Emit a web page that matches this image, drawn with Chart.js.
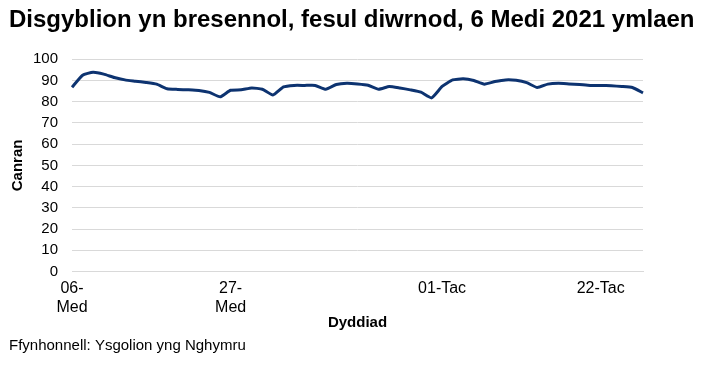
<!DOCTYPE html>
<html>
<head>
<meta charset="utf-8">
<script src="https://cdn.jsdelivr.net/npm/chart.js@4"></script>
<style>
  html, body { margin: 0; padding: 0; background: #fff; }
  #wrap { width: 707px; height: 368px; }
</style>
</head>
<body>
<div id="wrap"><canvas id="myChart" width="707" height="368"></canvas></div>
<script>
// dyddiadau ysgol (dim penwythnosau na hanner tymor)
const dyddiadau = [
    '06-Med', '07-Med', '08-Med', '09-Med', '10-Med',
    '13-Med', '14-Med', '15-Med', '16-Med', '17-Med',
    '20-Med', '21-Med', '22-Med', '23-Med', '24-Med',
    '27-Med', '28-Med', '29-Med', '30-Med', '01-Hyd',
    '04-Hyd', '05-Hyd', '06-Hyd', '07-Hyd', '08-Hyd',
    '11-Hyd', '12-Hyd', '13-Hyd', '14-Hyd', '15-Hyd',
    '18-Hyd', '19-Hyd', '20-Hyd', '21-Hyd', '22-Hyd',
    '01-Tac', '02-Tac', '03-Tac', '04-Tac', '05-Tac',
    '08-Tac', '09-Tac', '10-Tac', '11-Tac', '12-Tac',
    '15-Tac', '16-Tac', '17-Tac', '18-Tac', '19-Tac',
    '22-Tac', '23-Tac', '24-Tac', '25-Tac', '26-Tac'
];

// canran y disgyblion yn bresennol
const canran = [
    86.8, 92.5, 93.9, 93.0, 91.4,
    90.3, 89.7, 89.1, 88.3, 86.1,
    85.8, 85.6, 85.3, 84.4, 82.3,
    85.4, 85.6, 86.5, 85.9, 83.2,
    87.0, 87.7, 87.7, 87.7, 85.9,
    88.1, 88.7, 88.4, 87.8, 85.9,
    87.2, 86.5, 85.6, 84.5, 81.8,
    87.2, 90.3, 90.8, 90.0, 88.3,
    89.5, 90.3, 90.1, 89.0, 86.7,
    88.3, 88.7, 88.4, 88.1, 87.7,
    87.7, 87.5, 87.2, 86.7, 84.2
];

// labeli sy'n cael eu dangos ar yr echel
const labeliEchel = {
    '06-Med': ['06-', 'Med'],
    '27-Med': ['27-', 'Med'],
    '01-Tac': '01-Tac',
    '22-Tac': '22-Tac'
};

const teitl = 'Disgyblion yn bresennol, fesul diwrnod, 6 Medi 2021 ymlaen';
const ffynhonnell = 'Ffynhonnell: Ysgolion yng Nghymru';

const ffont = "'Liberation Sans', Arial, sans-serif";

const data = {
    labels: dyddiadau,
    datasets: [{
        label: 'Canran',
        data: canran,
        borderColor: '#0d3370',
        backgroundColor: '#0d3370',
        borderWidth: 3,
        pointRadius: 0,
        tension: 0.15,
        fill: false
    }]
};

const config = {
    type: 'line',
    data: data,
    options: {
        responsive: false,
        animation: false,
        layout: {
            padding: { left: 9, right: 4, top: 0, bottom: 2 }
        },
        plugins: {
            legend: { display: false },
            tooltip: { enabled: false },
            title: {
                display: true,
                text: teitl,
                align: 'start',
                color: '#000',
                font: { family: ffont, size: 24, weight: 'bold' },
                padding: { top: 6, bottom: 24.5 }
            },
            subtitle: {
                display: true,
                text: ffynhonnell,
                position: 'bottom',
                align: 'start',
                color: '#000',
                font: { family: ffont, size: 15 },
                padding: { top: 7, bottom: 11 }
            }
        },
        scales: {
            x: {
                offset: false,
                grid: { display: false, drawTicks: false },
                border: { display: true, color: '#d9d9d9' },
                afterFit: function (axis) {
                    axis.height = 58.5;
                },
                ticks: {
                    autoSkip: false,
                    maxRotation: 0,
                    minRotation: 0,
                    color: '#000',
                    padding: 8,
                    font: { family: ffont, size: 16, lineHeight: 1.15 },
                    callback: function (val, i) {
                        const l = dyddiadau[i];
                        return labeliEchel[l] || '';
                    }
                },
                title: {
                    display: true,
                    text: 'Dyddiad',
                    color: '#000',
                    font: { family: ffont, size: 15, weight: 'bold', lineHeight: 1 },
                    padding: { top: 0, bottom: 0 }
                }
            },
            y: {
                min: 0,
                max: 100,
                grid: { color: '#d9d9d9', drawTicks: false },
                border: { display: false },
                afterFit: function (axis) {
                    axis.width = 63;
                },
                ticks: {
                    stepSize: 10,
                    autoSkip: false,
                    color: '#000',
                    padding: 14,
                    font: { family: ffont, size: 15 }
                },
                title: {
                    display: true,
                    text: 'Canran',
                    color: '#000',
                    font: { family: ffont, size: 15, weight: 'bold' },
                    padding: { top: 0, bottom: 0 }
                }
            },
            // echel wag ar y dde i gadw lle fel yn y gwreiddiol
            yDde: {
                position: 'right',
                min: 0,
                max: 100,
                grid: { display: false, drawTicks: false },
                border: { display: false },
                ticks: { display: false },
                afterFit: function (axis) {
                    axis.width = 60;
                }
            }
        }
    }
};

const myChart = new Chart(document.getElementById('myChart'), config);
</script>
</body>
</html>
